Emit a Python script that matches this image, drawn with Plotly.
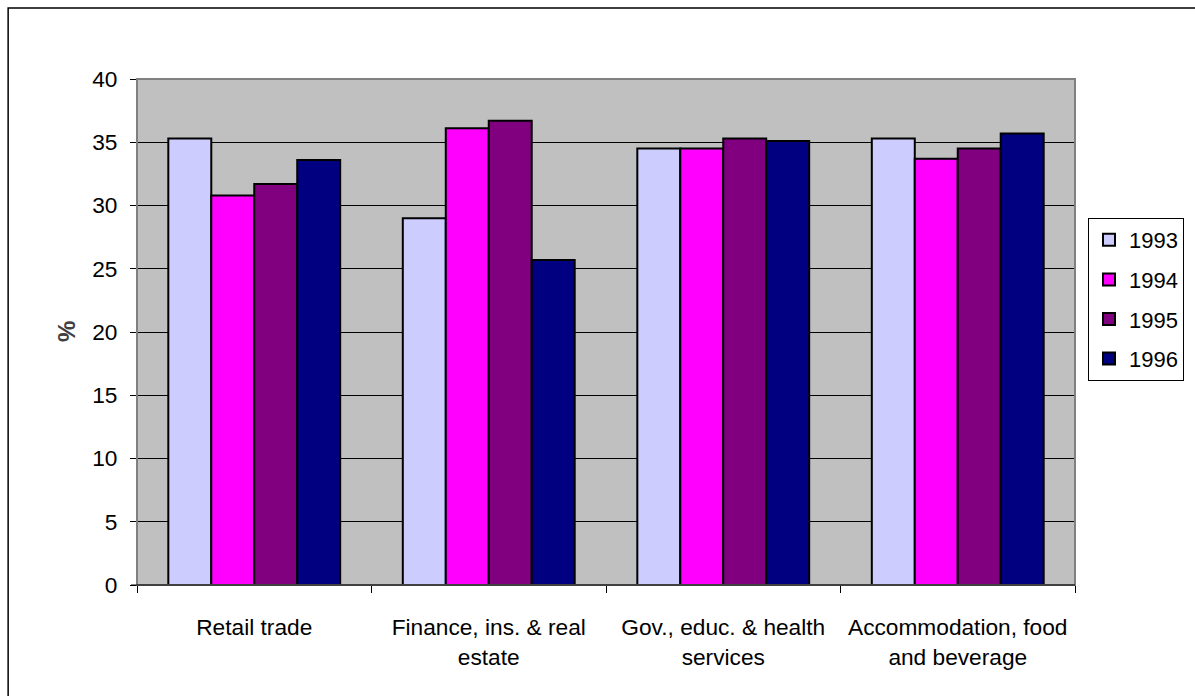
import plotly.graph_objects as go

categories = ["Retail trade", "Finance, ins. & real<br>estate",
              "Gov., educ. & health<br>services", "Accommodation, food<br>and beverage"]
years = ["1993", "1994", "1995", "1996"]
v1993 = [35.3, 29.0, 34.5, 35.3]
v1994 = [30.8, 36.1, 34.5, 33.7]
v1995 = [31.7, 36.7, 35.3, 34.5]
v1996 = [33.6, 25.7, 35.1, 35.7]
series = [v1993, v1994, v1995, v1996]
colors = ["#CCCCFF", "#FF00FF", "#800080", "#000080"]
yticks = [0, 5, 10, 15, 20, 25, 30, 35, 40]

W, H = 1195, 696
L, R, T, B = 137, 1076, 79, 585
pw, ph = R - L, B - T

fig = go.Figure()
for i, (yr, vals) in enumerate(zip(years, series)):
    fig.add_trace(go.Bar(
        x=categories, y=vals, name=yr, legendgroup=yr,
        marker=dict(color=colors[i], line=dict(color="black", width=2)),
    ))

FAM = "Liberation Sans, Arial, sans-serif"
font = dict(family=FAM, size=22.7, color="black")

def px_x(x):
    return (x - L) / pw

def px_y(y):
    return (B - y) / ph

fig.update_layout(
    width=W, height=H,
    margin=dict(l=L, r=W - R, t=T, b=H - B, pad=0),
    paper_bgcolor="white", plot_bgcolor="#C0C0C0",
    font=font,
    barmode="group", bargap=0.267, bargroupgap=0,
    showlegend=True,
    legend=dict(
        x=px_x(1184), y=px_y(218), xanchor="right", yanchor="top",
        bordercolor="black", borderwidth=1, bgcolor="white",
        font=dict(family=FAM, size=22, color="black"),
        tracegroupgap=8, itemwidth=30,
    ),
    xaxis=dict(
        type="category", tickson="boundaries", ticks="outside", ticklen=7,
        tickcolor="black", showline=True, linecolor="black", linewidth=1,
        showgrid=False, ticklabelstandoff=22, tickfont=font,
    ),
    yaxis=dict(
        range=[0, 40], tickvals=yticks, ticks="outside", ticklen=6,
        tickcolor="black", showline=True, linecolor="#404040", linewidth=1,
        showgrid=True, gridcolor="black", gridwidth=1, zeroline=False,
        ticklabelstandoff=8, tickfont=font,
    ),
    annotations=[dict(
        text="<b>%</b>", x=px_x(66), y=px_y(332), xref="paper", yref="paper",
        xanchor="center", yanchor="middle",
        showarrow=False, textangle=-90,
        font=dict(family=FAM, size=24, color="#404040"),
    )],
    shapes=[
        dict(type="rect", xref="paper", yref="paper", x0=0, x1=1, y0=0, y1=1,
             line=dict(color="#808080", width=2), layer="above"),
        dict(type="line", xref="paper", yref="paper", x0=px_x(131), x1=1, y0=0, y1=0,
             line=dict(color="black", width=1), layer="above"),
        dict(type="rect", xref="paper", yref="paper",
             x0=px_x(8), x1=px_x(1205), y0=px_y(706), y1=px_y(8),
             line=dict(color="black", width=1.5), layer="below"),
    ],
)

fig.write_html("out.html")
